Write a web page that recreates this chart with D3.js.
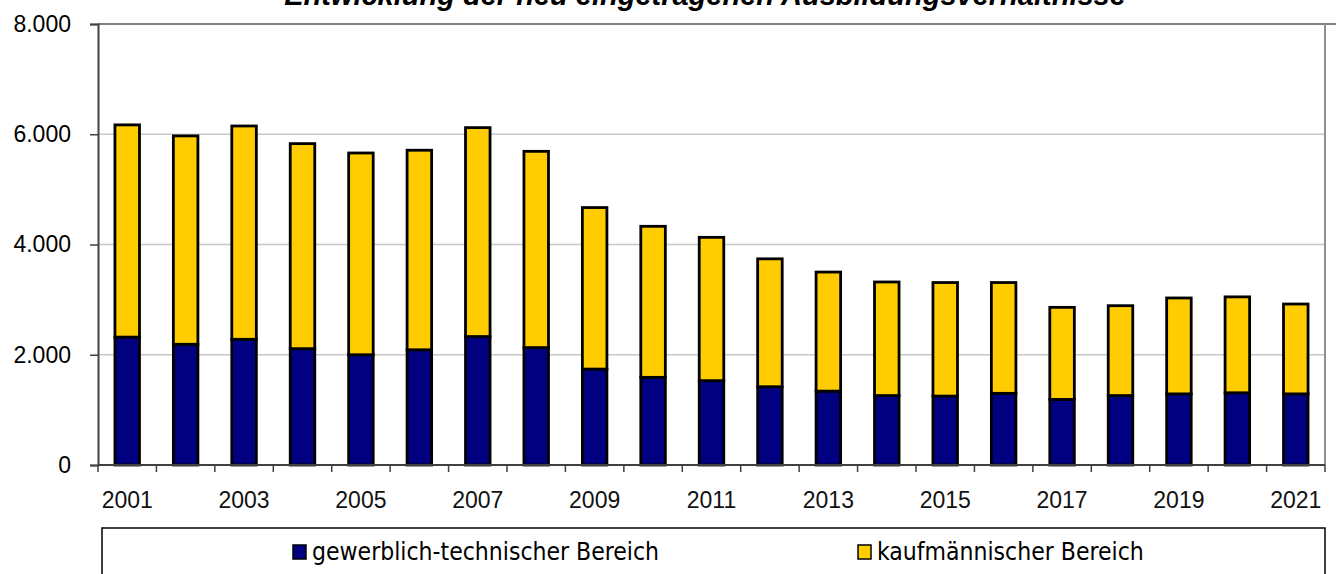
<!DOCTYPE html>
<html>
<head>
<meta charset="utf-8">
<script src="https://cdn.jsdelivr.net/npm/d3@7"></script>
<style>
  body { margin: 0; background: #fff; }
  svg { display: block; font-family: "Liberation Sans", Arial, sans-serif; }
</style>
</head>
<body>
<div id="chart"></div>
<script>
var years = ["2001","2002","2003","2004","2005","2006","2007","2008","2009","2010","2011",
             "2012","2013","2014","2015","2016","2017","2018","2019","2020","2021"]
var gewerblich = [2320,2190,2280,2110,2000,2090,2330,2130,1740,1590,1530,1420,1340,1260,1250,1300,1190,1260,1290,1310,1290]
var kaufmaennisch = [3850,3780,3870,3720,3660,3620,3790,3560,2930,2740,2600,2320,2160,2060,2060,2010,1670,1630,1740,1740,1630]
var yTicks = [0, 2000, 4000, 6000, 8000]
var seriesNames = ["gewerblich-technischer Bereich", "kaufmännischer Bereich"]
var colors = ["#000080", "#ffcc00"]

var svgWidth = 1336
var svgHeight = 574
var margin = { top: 24, right: 11, bottom: 109, left: 98 }
var width = svgWidth - margin.left - margin.right
var height = svgHeight - margin.top - margin.bottom

var svg = d3.select("#chart")
  .append("svg")
  .attr("width", svgWidth)
  .attr("height", svgHeight)

var chartGroup = svg.append("g")
  .attr("transform", `translate(${margin.left}, ${margin.top})`)

var data = years.map((y, i) => ({ year: y, gewerblich: gewerblich[i], kauf: kaufmaennisch[i] }))
var stacked = d3.stack().keys(["gewerblich", "kauf"])(data)

var x = d3.scaleBand().domain(years).range([0, width]).paddingInner(0.58).paddingOuter(0.29)
var xTick = d3.scaleBand().domain(years).range([0, width])
var y = d3.scaleLinear().domain([0, 8000]).range([height, 0])

// gridlines
chartGroup.selectAll(".grid")
  .data(yTicks.filter(d => d > 0 && d < 8000))
  .enter()
  .append("line")
  .attr("x1", 0)
  .attr("x2", width)
  .attr("y1", d => y(d))
  .attr("y2", d => y(d))
  .attr("stroke", "#c8c8c8")
  .attr("stroke-width", 1.5)

// plot frame top + right
chartGroup.append("line")
  .attr("x1", 0).attr("x2", width + 11)
  .attr("y1", 0).attr("y2", 0)
  .attr("stroke", "#808080").attr("stroke-width", 2)
chartGroup.append("line")
  .attr("x1", width).attr("x2", width)
  .attr("y1", 0).attr("y2", height)
  .attr("stroke", "#909090").attr("stroke-width", 2)

// bars
chartGroup.selectAll(".layer")
  .data(stacked)
  .enter()
  .append("g")
  .attr("fill", (d, i) => colors[i])
  .selectAll("rect")
  .data(d => d)
  .enter()
  .append("rect")
  .attr("x", d => x(d.data.year))
  .attr("width", x.bandwidth())
  .attr("y", d => y(d[1]))
  .attr("height", d => y(d[0]) - y(d[1]))
  .attr("stroke", "#000")
  .attr("stroke-width", 2.8)

// y axis
var leftAxis = d3.axisLeft(y)
  .tickValues(yTicks)
  .tickSize(8)
  .tickPadding(19)
  .tickFormat(d => d3.format(",")(d).replace(/,/g, "."))

var yAxis = chartGroup.append("g").call(leftAxis)
yAxis.select(".domain").attr("stroke", "#404040").attr("stroke-width", 2)
yAxis.selectAll(".tick line").attr("stroke", "#404040").attr("stroke-width", 1.5)
yAxis.selectAll("text").attr("font-size", 23).attr("fill", "#000")
  .attr("font-family", "Liberation Sans, Arial, sans-serif")

// x axis: ticks at band boundaries, labels every other year
var xAxis = chartGroup.append("g").attr("transform", `translate(0, ${height})`)
xAxis.append("line")
  .attr("x1", 0).attr("x2", width)
  .attr("stroke", "#404040").attr("stroke-width", 2)
xAxis.selectAll(".xt")
  .data(years.concat(["end"]))
  .enter()
  .append("line")
  .attr("x1", (d, i) => i * xTick.step())
  .attr("x2", (d, i) => i * xTick.step())
  .attr("y1", 0).attr("y2", 7)
  .attr("stroke", "#404040").attr("stroke-width", 1.5)
xAxis.selectAll(".xl")
  .data(years.filter((d, i) => i % 2 === 0))
  .enter()
  .append("text")
  .attr("x", d => xTick(d) + xTick.bandwidth() / 2)
  .attr("y", 43)
  .attr("text-anchor", "middle")
  .attr("font-size", 23)
  .attr("fill", "#111")
  .text(d => d)

// title (cut off at the top, as in the source)
svg.append("text")
  .attr("x", 705)
  .attr("y", 5)
  .attr("text-anchor", "middle")
  .attr("font-size", 29)
  .attr("font-weight", "bold")
  .attr("font-style", "italic")
  .text("Entwicklung der neu eingetragenen Ausbildungsverhältnisse")

// legend
var legend = svg.append("g")
legend.append("rect")
  .attr("x", 102).attr("y", 528)
  .attr("width", 1223).attr("height", 60)
  .attr("fill", "none")
  .attr("stroke", "#000").attr("stroke-width", 1.5)

var legendX = [293, 858]
var items = legend.selectAll(".item")
  .data(seriesNames)
  .enter()
  .append("g")
  .attr("transform", (d, i) => `translate(${legendX[i]}, 545)`)
items.append("rect")
  .attr("width", 13).attr("height", 14)
  .attr("fill", (d, i) => colors[i])
  .attr("stroke", "#000").attr("stroke-width", 1.5)
items.append("text")
  .attr("x", 19).attr("y", 15)
  .attr("font-family", "DejaVu Sans Condensed, DejaVu Sans, sans-serif")
  .attr("font-stretch", "condensed")
  .attr("font-size", 24.5)
  .text(d => d)
</script>
</body>
</html>
